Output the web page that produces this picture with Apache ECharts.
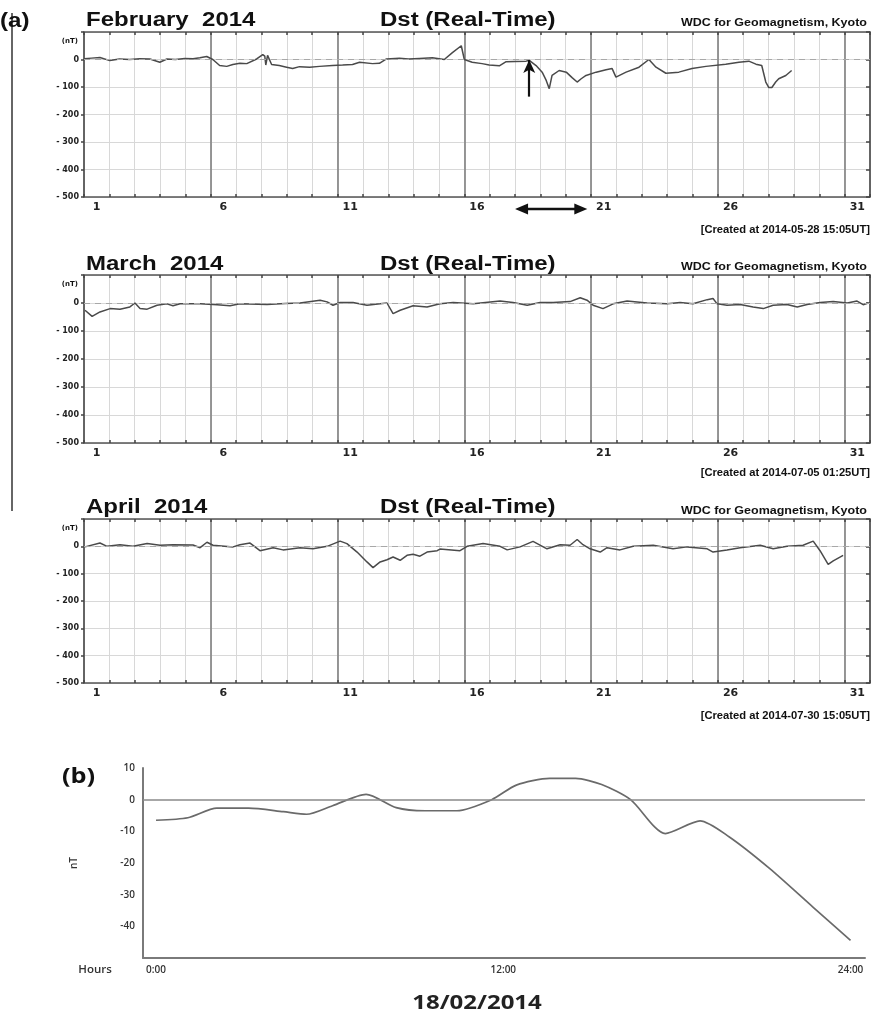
<!DOCTYPE html>
<html>
<head>
<meta charset="utf-8">
<script src="https://cdn.jsdelivr.net/npm/echarts@6/dist/echarts.min.js"></script>
<style>
  html, body { margin: 0; padding: 0; background: #fff; }
  #chart { width: 872px; height: 1019px; }
</style>
</head>
<body>
<div id="chart"></div>
<script>
// Real-time Dst index, [days since start of month, nT]
const febDst = [[0,3],[0.3,5],[0.63,7],[1.02,-4],[1.4,2],[1.8,0],[2.2,3],[2.6,2],[2.99,-10],[3.27,2],[3.6,0],[3.98,4],[4.3,3],[4.57,6],[4.84,11],[5.08,0],[5.35,-22],[5.63,-25],[5.87,-18],[6.15,-14],[6.42,-15],[6.81,2],[7.05,18],[7.13,12],[7.17,-20],[7.24,15],[7.4,-18],[7.7,-22],[7.99,-28],[8.23,-33],[8.5,-26],[8.9,-28],[9.29,-25],[9.8,-22],[10.2,-20],[10.59,-18],[10.87,-10],[11.38,-15],[11.65,-14],[11.93,2],[12.44,5],[12.8,2],[13.23,4],[13.74,6],[14.21,0],[14.53,25],[14.88,50],[15.0,0],[15.31,-10],[15.7,-15],[15.98,-20],[16.38,-23],[16.65,-8],[17.0,-7],[17.44,-6],[17.56,-3],[17.83,-22],[18.07,-46],[18.23,-76],[18.35,-106],[18.46,-58],[18.74,-40],[19.02,-46],[19.25,-66],[19.45,-82],[19.61,-70],[19.8,-58],[20.2,-46],[20.59,-37],[20.83,-33],[20.98,-64],[21.38,-46],[21.89,-28],[22.28,0],[22.56,-28],[22.95,-50],[23.46,-46],[23.98,-33],[24.53,-25],[25.31,-17],[25.83,-10],[26.22,-6],[26.5,-17],[26.73,-22],[26.89,-82],[27.01,-102],[27.13,-102],[27.28,-82],[27.4,-70],[27.68,-58],[27.91,-40]];

const marDst = [[0.04,-26],[0.32,-48],[0.63,-32],[1.03,-20],[1.42,-22],[1.81,-14],[2.01,0],[2.21,-20],[2.49,-22],[2.88,-8],[3.27,-3],[3.51,-10],[3.79,-3],[4.58,-3],[5.25,-6],[5.76,-10],[6.15,-3],[7.22,-5],[7.93,-2],[8.52,0],[9.31,10],[9.59,4],[9.82,-8],[10.1,2],[10.61,2],[11.16,-8],[11.68,-3],[11.95,0],[12.19,-38],[12.47,-26],[12.98,-10],[13.53,-14],[14.04,-3],[14.56,2],[15.35,-3],[16.41,7],[16.92,2],[17.48,-8],[17.99,2],[18.5,2],[19.17,5],[19.57,19],[19.84,10],[20.08,-8],[20.47,-20],[20.87,-3],[21.42,7],[22.21,0],[23.0,-3],[23.51,2],[24.02,-3],[24.58,12],[24.81,16],[24.97,-3],[25.36,-8],[25.88,-5],[26.39,-14],[26.79,-20],[27.18,-8],[27.73,-5],[28.13,-14],[28.52,-5],[29.03,2],[29.55,5],[30.1,0],[30.49,7],[30.73,-6],[30.93,0]];

const aprDst = [[0.04,-2],[0.63,12],[0.91,0],[1.42,6],[1.93,0],[2.49,10],[3.0,4],[3.51,6],[4.3,5],[4.58,-5],[4.85,15],[5.09,4],[5.88,-2],[6.15,6],[6.55,12],[6.94,-16],[7.46,-5],[7.85,-13],[8.52,-5],[9.03,-9],[9.59,0],[10.1,19],[10.37,10],[10.77,-21],[11.16,-57],[11.4,-78],[11.68,-57],[11.95,-49],[12.19,-39],[12.47,-51],[12.74,-33],[12.98,-29],[13.25,-36],[13.53,-21],[13.93,-16],[14.04,-10],[14.83,-16],[15.11,0],[15.74,10],[16.41,0],[16.69,-13],[17.2,-2],[17.71,18],[18.26,-9],[18.78,6],[19.17,4],[19.45,25],[19.68,6],[19.96,-9],[20.36,-21],[20.63,-5],[21.14,-13],[21.66,0],[22.45,4],[23.23,-9],[23.79,-2],[24.58,-9],[24.81,-21],[25.36,-13],[25.88,-5],[26.67,4],[27.18,-9],[27.73,0],[28.36,4],[28.76,19],[29.03,-16],[29.35,-66],[29.55,-53],[29.94,-33]];

// 18 February 2014: hour of day and Dst (nT)
const feb18Hours = [0, 1.1, 2.1, 3.2, 4.4, 5.2, 6.1, 7.26, 8.3, 9.3, 10.4, 11.6, 12.45, 13.6, 14.5, 15.4, 16.4, 17.6, 18.8, 19.8, 21.2, 22.7, 24];
const feb18Dst   = [-6.5, -5.7, -2.7, -2.7, -3.8, -4.6, -1.9, 1.7, -2.5, -3.5, -3.5, 0, 4.6, 6.7, 6.7, 4.8, 0, -10.7, -6.7, -11.7, -21.7, -33.9, -44.4];

// labels
const dayTicks = [1, 6, 11, 16, 21, 26, 31];
const hourTicks = [0, 12, 24];
const monthTitles = ['February  2014', 'March  2014', 'April  2014'];
const createdNotes = ['[Created at 2014-05-28 15:05UT]', '[Created at 2014-07-05 01:25UT]', '[Created at 2014-07-30 15:05UT]'];

const chart = echarts.init(document.getElementById('chart'), null, { renderer: 'canvas' });

const panels = [
  { top: 32, height: 165 },
  { top: 275, height: 168 },
  { top: 519, height: 164 }
];
const monthData = [febDst, marDst, aprDst];

const LABEL_FONT = '"DejaVu Sans", sans-serif';
const TITLE_FONT = '"Liberation Sans", Arial, sans-serif';
const B_FONT = '"Open Sans", sans-serif';

const grids = [], xAxes = [], yAxes = [], series = [];
const frameLine = { show: true, onZero: false, lineStyle: { color: '#555', width: 1.5 } };

panels.forEach((p, i) => {
  grids.push({ left: 84, top: p.top, width: 786, height: p.height });
  // bottom axis: one light line per day, day numbers centred in their day
  xAxes.push({
    type: 'value', gridIndex: i, min: 0, max: 31, interval: 1,
    axisLine: frameLine,
    axisTick: { show: true, inside: true, length: 3, lineStyle: { color: '#444', width: 1.5 } },
    axisLabel: {
      customValues: dayTicks.map(d => d - 0.5),
      formatter: v => String(Math.round(v + 0.5)),
      margin: 5, fontFamily: LABEL_FONT, fontSize: 11, fontWeight: 'bold', color: '#222'
    },
    splitLine: { show: true, lineStyle: { color: '#d8d8d8', width: 1 } }
  });
  // top frame with daily ticks
  xAxes.push({
    type: 'value', gridIndex: i, position: 'top', min: 0, max: 31, interval: 1,
    axisLine: frameLine,
    axisTick: { show: true, inside: true, length: 3, lineStyle: { color: '#444', width: 1.5 } },
    axisLabel: { show: false },
    splitLine: { show: false }
  });
  // darker lines every five days
  xAxes.push({
    type: 'value', gridIndex: i, min: 0, max: 31, interval: 5,
    axisLine: { show: false, onZero: false }, axisTick: { show: false }, axisLabel: { show: false },
    splitLine: { show: true, lineStyle: { color: '#8c8c8c', width: 1.8 } }
  });
  yAxes.push({
    type: 'value', gridIndex: i, min: -500, max: 100, interval: 100,
    axisLine: frameLine,
    axisTick: { show: true, length: 3, lineStyle: { color: '#444', width: 1.5 } },
    axisLabel: {
      formatter: v => v === 100 ? '' : (v < 0 ? '- ' + (-v) : String(v)),
      margin: 5, fontFamily: LABEL_FONT, fontSize: 8, fontWeight: 'bold', color: '#222'
    },
    splitLine: { show: true, lineStyle: { color: '#d8d8d8', width: 1 } }
  });
  yAxes.push({
    type: 'value', gridIndex: i, position: 'right', min: -500, max: 100, interval: 100,
    axisLine: frameLine,
    axisTick: { show: true, inside: true, length: 4, lineStyle: { color: '#444', width: 1.5 } },
    axisLabel: { show: false },
    splitLine: { show: false }
  });

  const markData = [{ yAxis: 0 }];
  if (i === 0) {
    // arrow marking the onset on 18 February
    markData.push([
      { coord: [17.56, -135], symbol: 'none', lineStyle: { color: '#111', width: 2.2, type: 'solid' } },
      { coord: [17.56, -2], symbol: 'arrow', symbolSize: [9, 13] }
    ]);
  }
  series.push({
    type: 'line', xAxisIndex: 3 * i, yAxisIndex: 2 * i,
    data: monthData[i], showSymbol: false, symbol: 'none',
    lineStyle: { color: '#4a4a4a', width: 1.5 },
    z: 3,
    markLine: {
      silent: true, symbol: 'none', animation: false,
      label: { show: false },
      lineStyle: { color: '#a8a8a8', type: [6, 5], width: 1 },
      data: markData
    }
  });
});

// panel (b): 18 February 2014
grids.push({ left: 143, top: 768, width: 722, height: 190 });
xAxes.push({
  type: 'value', gridIndex: 3, min: -0.45, max: 24.5,
  axisLine: { show: true, onZero: false, lineStyle: { color: '#7a7a7a', width: 2 } },
  axisTick: { show: false },
  axisLabel: {
    customValues: hourTicks, formatter: h => h + ':00',
    margin: 7, fontFamily: B_FONT, fontSize: 10, fontWeight: 600, color: '#333'
  },
  splitLine: { show: false }
});
yAxes.push({
  type: 'value', gridIndex: 3, min: -50, max: 10, interval: 10,
  name: 'nT', nameLocation: 'middle', nameRotate: 90, nameGap: 64,
  nameTextStyle: { fontFamily: B_FONT, fontSize: 10, fontWeight: 600, color: '#333' },
  axisLine: { show: true, onZero: false, lineStyle: { color: '#7a7a7a', width: 2 } },
  axisTick: { show: false },
  axisLabel: {
    formatter: v => v === -50 ? '' : String(v),
    margin: 8, fontFamily: B_FONT, fontSize: 10, fontWeight: 600, color: '#333'
  },
  splitLine: { show: false }
});
series.push({
  type: 'line', xAxisIndex: 9, yAxisIndex: 6,
  data: feb18Hours.map((h, k) => [h, feb18Dst[k]]),
  showSymbol: false, symbol: 'none', smooth: 0.25,
  lineStyle: { color: '#6a6a6a', width: 1.7 },
  markLine: {
    silent: true, symbol: 'none', animation: false,
    label: { show: false },
    lineStyle: { color: '#8a8a8a', type: 'solid', width: 1.5 },
    data: [{ yAxis: 0 }]
  }
});

chart.setOption({
  animation: false,
  backgroundColor: '#fff',
  grid: grids, xAxis: xAxes, yAxis: yAxes, series: series
});

// text and decorations around the panels
function txt(id, text, x, y, font, align, scaleX, fill) {
  return {
    type: 'text', id: id, x: x, y: y, z: 10, scaleX: scaleX || 1,
    style: {
      text: text, font: font, fill: fill || '#111',
      textAlign: align, align: align, textVerticalAlign: 'middle', verticalAlign: 'middle'
    }
  };
}

const titleY = [20, 264, 507];
const wdcY = [23, 267, 511];
const noteY = [230, 473, 716];
const graphics = [
  { type: 'line', id: 'leftRule', shape: { x1: 12, y1: 13, x2: 12, y2: 511 }, style: { stroke: '#333', lineWidth: 1.5 } },
  txt('labelA', '(a)', 0, 21, 'bold 21px ' + TITLE_FONT, 'left', 1.15),
  txt('labelB', '(b)', 62, 777, 'bold 22px ' + B_FONT, 'left', 1.15),
  txt('hoursLbl', 'Hours', 95, 970, '600 10px ' + B_FONT, 'center', 1.15, '#333'),
  txt('dateLbl', '18/02/2014', 477, 1003, 'bold 20px ' + B_FONT, 'center', 1.2, '#222')
];
monthTitles.forEach((t, i) => {
  graphics.push(txt('month' + i, t, 86, titleY[i], 'bold 20px ' + TITLE_FONT, 'left', 1.2));
  graphics.push(txt('dst' + i, 'Dst (Real-Time)', 380, titleY[i], 'bold 20px ' + TITLE_FONT, 'left', 1.2));
  graphics.push(txt('wdc' + i, 'WDC for Geomagnetism, Kyoto', 867, wdcY[i], 'bold 10px ' + TITLE_FONT, 'right', 1.25));
  graphics.push(txt('note' + i, createdNotes[i], 870, noteY[i], 'bold 10px ' + TITLE_FONT, 'right', 1.12));
  graphics.push(txt('unit' + i, '(nT)', 78, panels[i].top + 9, 'bold 7px ' + LABEL_FONT, 'right'));
});

// double arrow under the February axis spanning the storm days
const xa = chart.convertToPixel({ xAxisIndex: 0 }, 17);
const xb = chart.convertToPixel({ xAxisIndex: 0 }, 19.85);
const ya = chart.convertToPixel({ yAxisIndex: 0 }, -500) + 12;
graphics.push(
  { type: 'line', id: 'spanLine', shape: { x1: xa + 8, y1: ya, x2: xb - 8, y2: ya }, style: { stroke: '#111', lineWidth: 2.5 } },
  { type: 'polygon', id: 'spanHeadL', shape: { points: [[xa, ya], [xa + 13, ya - 5.5], [xa + 13, ya + 5.5]] }, style: { fill: '#111' } },
  { type: 'polygon', id: 'spanHeadR', shape: { points: [[xb, ya], [xb - 13, ya - 5.5], [xb - 13, ya + 5.5]] }, style: { fill: '#111' } }
);

chart.setOption({ graphic: graphics });
</script>
</body>
</html>
